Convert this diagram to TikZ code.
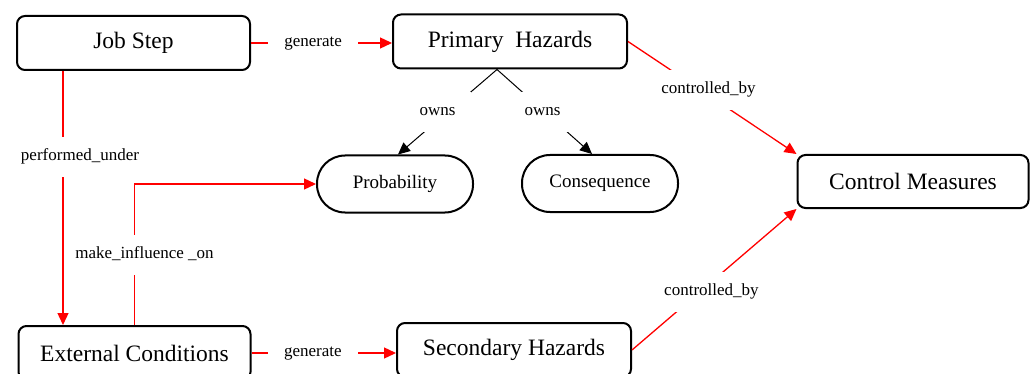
\documentclass[tikz,border=0pt]{standalone}
\usepackage{fontspec}
\setmainfont{Liberation Serif}
\newfontfamily\tms{Liberation Serif}
\usetikzlibrary{arrows.meta}
\begin{document}
\begin{tikzpicture}[x=1pt,y=-1pt,
  box/.style={draw, line width=2pt, rounded corners=8pt, minimum height=54pt, inner sep=0pt, font=\tms\fontsize{23.5}{27}\selectfont},
  pill/.style={draw, line width=2pt, rounded corners=28pt, minimum width=156pt, minimum height=57pt, inner sep=0pt, font=\tms\fontsize{19}{22}\selectfont},
  lbl/.style={fill=white, text=black, inner xsep=16pt, inner ysep=12.5pt, text height=11pt, text depth=4pt, font=\tms\fontsize{17}{20}\selectfont},
  rel/.style={red, line width=1.3pt, -{Triangle[length=12pt,width=11pt]}},
  own/.style={black, line width=1pt, -{Triangle[length=12pt,width=11pt]}},
]
\useasboundingbox[fill=white] (0,0) rectangle (1032,374);

\node[box, minimum width=233pt] (js) at (133.5,43) {Job Step};
\node[box, minimum width=234pt] (ph) at (510,41.5) {Primary\ \ Hazards};
\node[pill] (pr) at (395,184) {Probability};
\node[pill] (cq) at (600,183.5) {Consequence};
\node[box, minimum width=231pt, minimum height=53pt] (cm) at (913,181.5) {Control Measures};
\node[box, minimum width=232pt] (ec) at (134.5,353) {External Conditions};
\node[box, minimum width=234pt] (sh) at (514,350) {Secondary Hazards};

% Job Step -> Primary Hazards
\draw[rel] (js.east) -- node[lbl, pos=0.44] {generate} (js.east -| ph.west);
% External Conditions -> Secondary Hazards
\draw[rel] (ec.east) -- node[lbl, pos=0.425] {generate} (ec.east -| sh.west);

% owns
\draw[own] ([xshift=-13pt]ph.south) -- node[lbl, xshift=-10pt] {owns} ([xshift=3pt]pr.north);
\draw[own] ([xshift=-13pt]ph.south) -- node[lbl, xshift=-2pt] {owns} ([xshift=-8pt]cq.north);

% controlled_by
\draw[rel] (ph.east) -- node[lbl, pos=0.43, xshift=8pt] {controlled\_by} (cm.north west);
\draw[rel] (sh.east) -- node[lbl, pos=0.41, xshift=12pt] {controlled\_by} (cm.south west);

% make_influence _on
\draw[rel] (ec.north) |- node[lbl, pos=0.25, xshift=10pt] {make\_influence \_on} (pr.west);

% performed_under
\draw[rel] ([xshift=-70.5pt]js.south) -- node[lbl, pos=0.34, xshift=17pt] {performed\_under} ([xshift=-70.5pt]js.south |- ec.north);
\end{tikzpicture}
\end{document}
